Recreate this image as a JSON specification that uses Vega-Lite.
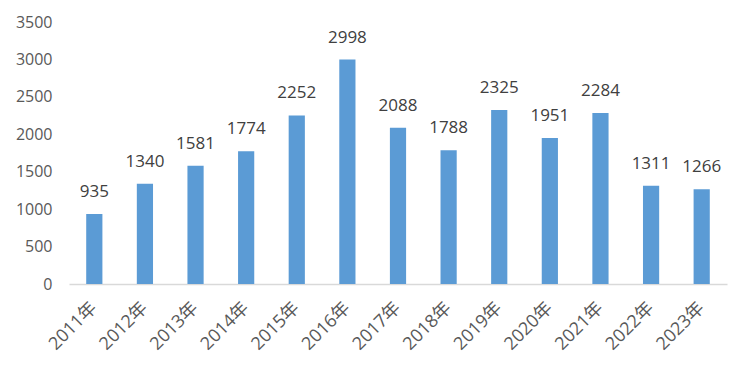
{
  "$schema": "https://vega.github.io/schema/vega-lite/v6.json",
  "width": 658,
  "height": 262,
  "autosize": "none",
  "padding": {"left": 69, "top": 22, "right": 23, "bottom": 85},
  "background": "white",
  "config": {"view": {"stroke": null}, "font": "Open Sans, Noto Sans CJK SC"},
  "data": {"values": [
    {"year": "2011年", "value": 935},
    {"year": "2012年", "value": 1340},
    {"year": "2013年", "value": 1581},
    {"year": "2014年", "value": 1774},
    {"year": "2015年", "value": 2252},
    {"year": "2016年", "value": 2998},
    {"year": "2017年", "value": 2088},
    {"year": "2018年", "value": 1788},
    {"year": "2019年", "value": 2325},
    {"year": "2020年", "value": 1951},
    {"year": "2021年", "value": 2284},
    {"year": "2022年", "value": 1311},
    {"year": "2023年", "value": 1266}
  ]},
  "encoding": {
    "x": {"field": "year", "type": "nominal", "sort": null,
      "scale": {"paddingInner": 0.68, "paddingOuter": 0.34},
      "axis": {"title": null, "labelAngle": -45, "labelAlign": "right", "labelBaseline": "middle", "labelFontSize": 18, "labelColor": "#595959", "labelFont": "Open Sans, Noto Sans CJK SC", "ticks": false, "labelPadding": 21, "domainColor": "#D9D9D9", "domainWidth": 1.5, "grid": false}},
    "y": {"field": "value", "type": "quantitative",
      "scale": {"domain": [0, 3500]},
      "axis": {"title": null, "format": "d", "values": [0, 500, 1000, 1500, 2000, 2500, 3000, 3500], "domain": false, "ticks": false, "grid": false, "labelPadding": 17, "labelFontSize": 16, "labelColor": "#595959", "labelFont": "Open Sans"}}
  },
  "layer": [
    {"mark": {"type": "bar", "color": "#5B9BD5"}},
    {"mark": {"type": "text", "baseline": "alphabetic", "dy": -17, "fontSize": 17, "font": "Open Sans", "color": "#404040"},
      "encoding": {"text": {"field": "value", "type": "quantitative", "format": "d"}}}
  ]
}
